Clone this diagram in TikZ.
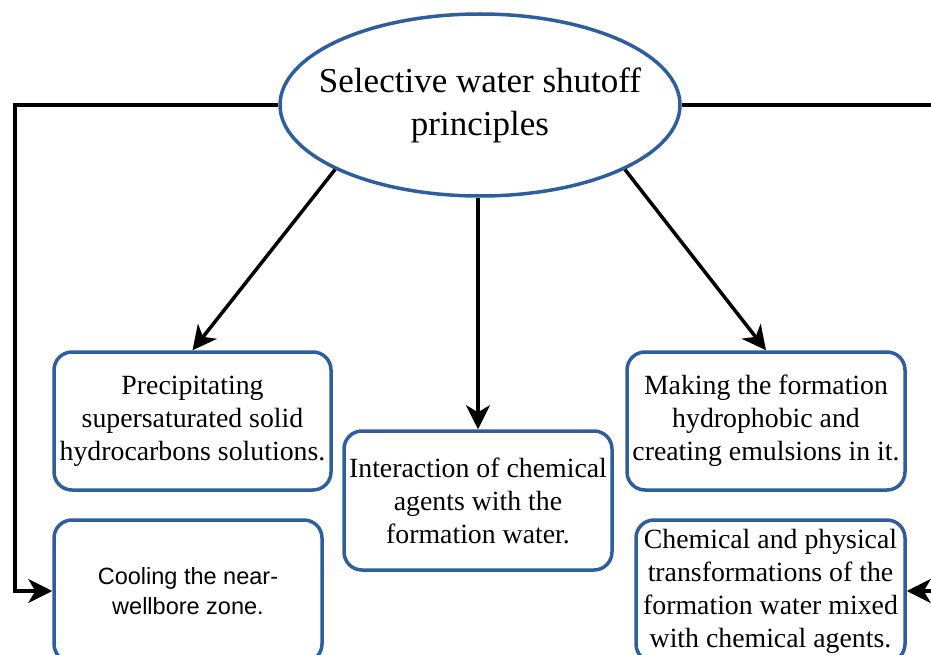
\documentclass[tikz,border=0pt]{standalone}
\usepackage{fontspec}
\setmainfont{Liberation Serif}
\newfontfamily\boxsans{Liberation Sans}
\usetikzlibrary{arrows.meta,shapes.geometric,positioning}
\definecolor{frameblue}{HTML}{2E5E9E}
\tikzset{
  principle/.style={draw=frameblue,line width=3.5pt,rounded corners=18pt,fill=white,
    align=center,inner sep=0pt,font=\fontsize{27.8}{33}\selectfont},
  link/.style={line width=3.5pt,-{Stealth[length=24pt,width=24pt,inset=7pt]}},
}
\begin{document}
\begin{tikzpicture}[x=1pt,y=-1pt]
  \useasboundingbox (0,0) rectangle (931,655);
  \clip (0,0) rectangle (931,655);
  \node[ellipse,draw=frameblue,line width=3.5pt,fill=white,minimum width=400pt,
    minimum height=182pt,inner xsep=-20pt,inner ysep=0pt,align=center,
    font=\fontsize{35}{43}\selectfont] (root) at (480,105)
    {Selective water shutoff\\principles};
  \node[principle,minimum width=277pt,minimum height=138pt] (precip) at (192.5,421)
    {Precipitating\\supersaturated solid\\hydrocarbons solutions.};
  \node[principle,minimum width=268pt,minimum height=139pt] (interact) at (478,500.5)
    {Interaction of chemical\\agents with the\\formation water.};
  \node[principle,minimum width=278pt,minimum height=138pt] (hydro) at (766,421)
    {Making the formation\\hydrophobic and\\creating emulsions in it.};
  \node[principle,minimum width=268pt,minimum height=142pt,
    font=\boxsans\fontsize{23.5}{30}\selectfont] (cooling) at (188,591)
    {Cooling the near-\\wellbore zone.};
  \node[principle,minimum width=269pt,minimum height=142pt] (transform) at (770.5,591)
    {Chemical and physical\\transformations of the\\formation water mixed\\with chemical agents.};
  % connectors
  \coordinate (lturn) at (15,105);
  \coordinate (rturn) at (950,105);
  \draw[link] (root.204) -- (precip.north);
  \draw[link] (root.south -| interact.north) -- (interact.north);
  \draw[link] (root.336) -- (hydro.north);
  \draw[link] (root.west) -- (lturn) |- (cooling.west);
  \draw[link] (root.east) -- (rturn) |- (transform.east);
\end{tikzpicture}
\end{document}
